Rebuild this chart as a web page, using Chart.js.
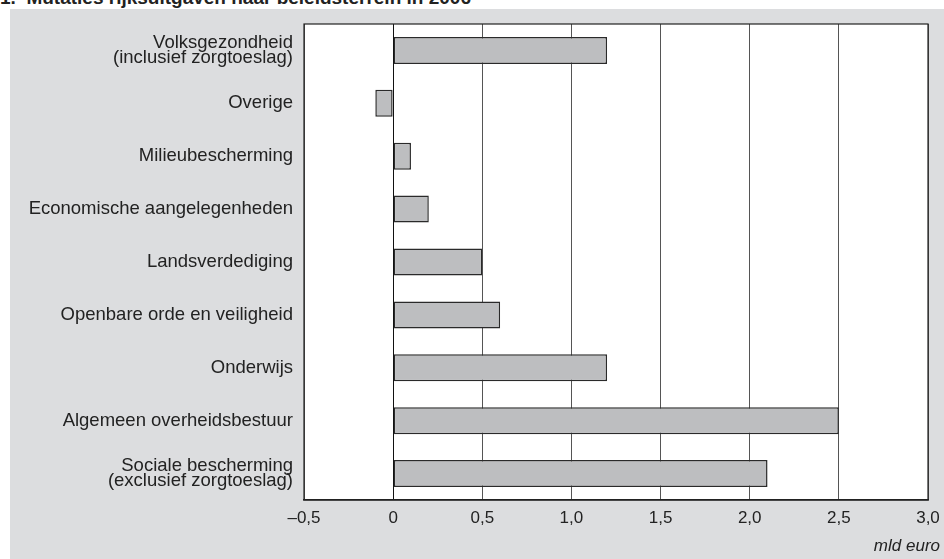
<!DOCTYPE html>
<html>
<head>
<meta charset="utf-8">
<script src="https://cdn.jsdelivr.net/npm/chart.js@4.4.0/dist/chart.umd.min.js"></script>
<style>
  html, body { margin: 0; padding: 0; background: #fff; overflow: hidden; }
  body { width: 944px; height: 559px; position: relative; font-family: "Liberation Sans", Arial, sans-serif; }
  #title { position: absolute; left: 0; top: -12px; font-size: 19px; font-weight: bold; color: #222; white-space: nowrap; line-height: 19px; }
  #panel { position: absolute; left: 10px; top: 9px; width: 934px; height: 550px; background: #dcdddf; }
  #unit { position: absolute; right: 4px; top: 536px; font-size: 17px; font-style: italic; color: #222; }
</style>
</head>
<body>
<div id="title">1.&nbsp; Mutaties rijksuitgaven naar beleidsterrein in 2006</div>
<div id="panel"><canvas id="chart" width="934" height="550"></canvas></div>
<div id="unit">mld euro</div>
<script>
// ---------- DATA ----------
const categories = [
  ['Volksgezondheid', '(inclusief zorgtoeslag)'],
  'Overige',
  'Milieubescherming',
  'Economische aangelegenheden',
  'Landsverdediging',
  'Openbare orde en veiligheid',
  'Onderwijs',
  'Algemeen overheidsbestuur',
  ['Sociale bescherming', '(exclusief zorgtoeslag)']
];
const mutaties = [1.2, -0.1, 0.1, 0.2, 0.5, 0.6, 1.2, 2.5, 2.1];
const xTicks = [-0.5, 0, 0.5, 1.0, 1.5, 2.0, 2.5, 3.0];

const FONT = '"Liberation Sans", Arial, sans-serif';

// white plot area + frame
const plotFrame = {
  id: 'plotFrame',
  beforeDraw(chart) {
    const a = chart.chartArea, c = chart.ctx;
    c.save();
    c.fillStyle = '#ffffff';
    c.fillRect(a.left, a.top, a.right - a.left, a.bottom - a.top);
    c.restore();
  },
  afterDraw(chart) {
    const a = chart.chartArea, c = chart.ctx;
    c.save();
    c.strokeStyle = '#222';
    c.lineWidth = 1.2;
    c.strokeRect(a.left, a.top, a.right - a.left, a.bottom - a.top);
    c.restore();
  }
};

new Chart(document.getElementById('chart'), {
  type: 'bar',
  data: {
    labels: categories,
    datasets: [{
      data: mutaties,
      backgroundColor: '#bdbec0',
      borderColor: '#2a2a2a',
      borderWidth: 1.5,
      borderSkipped: false,
      categoryPercentage: 1,
      barPercentage: 0.51
    }]
  },
  options: {
    indexAxis: 'y',
    responsive: false,
    animation: false,
    layout: { padding: { top: 15, right: 16, left: 0, bottom: 0 } },
    plugins: { legend: { display: false }, tooltip: { enabled: false } },
    scales: {
      x: {
        min: -0.5, max: 3.0,
        afterBuildTicks: s => { s.ticks = xTicks.map(v => ({ value: v })); },
        afterFit: s => { s.height = 59; s.paddingLeft = 0; s.paddingRight = 0; },
        ticks: {
          padding: 8,
          color: '#222',
          font: { family: FONT, size: 17 },
          callback: v => v === 0 ? '0' : v.toFixed(1).replace('.', ',').replace('-', '\u2013')
        },
        grid: {
          drawTicks: false,
          color: ctx => (ctx.tick && ctx.tick.value === 0) ? '#111' : '#555',
          lineWidth: 1
        },
        border: { color: '#222', width: 1.5 }
      },
      y: {
        afterFit: s => { s.width = 294; s.paddingTop = 0; s.paddingBottom = 0; },
        ticks: {
          padding: 11,
          color: '#222',
          font: { family: FONT, size: 18.5, lineHeight: 0.82 }
        },
        grid: { display: false, drawTicks: false },
        border: { display: false }
      }
    }
  },
  plugins: [plotFrame]
});
</script>
</body>
</html>
